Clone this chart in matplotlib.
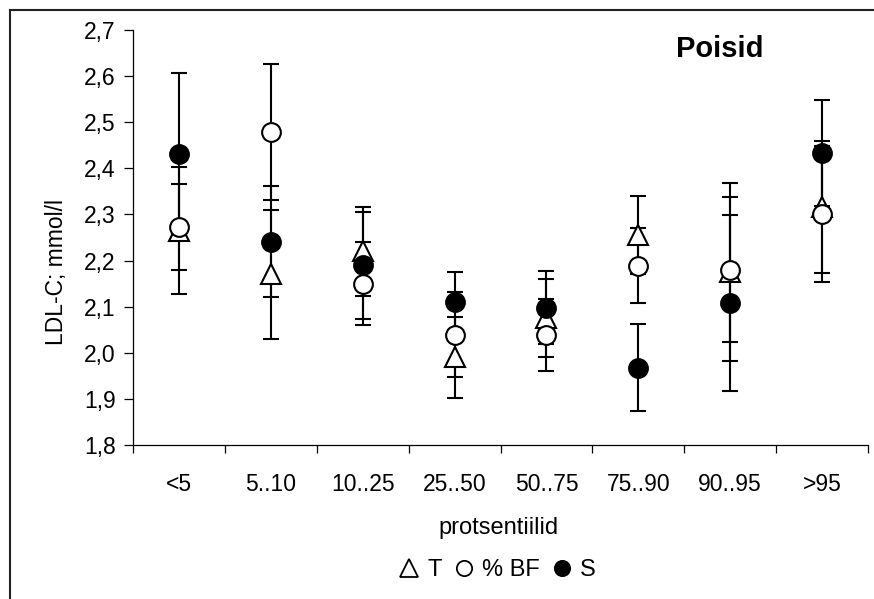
import numpy as np
import matplotlib.pyplot as plt
from matplotlib.lines import Line2D
from matplotlib.ticker import FuncFormatter

plt.rcParams['font.family'] = ['Liberation Sans', 'DejaVu Sans']

# Kategooriad ja väärtused (loetud pildilt)
categories = ['<5', '5..10', '10..25', '25..50', '50..75', '75..90', '90..95', '>95']
T = [2.265, 2.17, 2.22, 1.99, 2.075, 2.255, 2.175, 2.317]
T_err = [0.137, 0.14, 0.097, 0.088, 0.085, 0.084, 0.193, 0.143]
BF = [2.273, 2.479, 2.15, 2.039, 2.039, 2.189, 2.18, 2.301]
BF_err = [0.093, 0.148, 0.09, 0.092, 0.078, 0.082, 0.157, 0.148]
S = [2.431, 2.241, 2.19, 2.111, 2.098, 1.968, 2.108, 2.433]
S_err = [0.176, 0.121, 0.116, 0.065, 0.08, 0.095, 0.19, 0.115]

x = np.arange(len(categories)) + 0.5

fig = plt.figure(figsize=(8.74, 5.99), dpi=100)
ax = fig.add_axes([133/874, 1 - 445/599, 735/874, 415/599])

# veapiirid
for vals, errs in [(T, T_err), (BF, BF_err), (S, S_err)]:
    ax.errorbar(x, vals, yerr=errs, fmt='none', ecolor='black', elinewidth=1.5,
                capsize=5.5, capthick=1.5, zorder=2)

# markerid
ax.plot(x, T, linestyle='none', marker='^', markersize=14, markerfacecolor='white',
        markeredgecolor='black', markeredgewidth=1.5, zorder=3)
ax.plot(x, BF, linestyle='none', marker='o', markersize=13.5, markerfacecolor='white',
        markeredgecolor='black', markeredgewidth=1.5, zorder=4)
ax.plot(x, S, linestyle='none', marker='o', markersize=13.5, markerfacecolor='black',
        markeredgecolor='black', markeredgewidth=1.5, zorder=5)

ax.set_xlim(0, len(categories))
ax.set_ylim(1.8, 2.7)
ax.set_yticks(np.arange(1.8, 2.71, 0.1))
ax.yaxis.set_major_formatter(FuncFormatter(lambda v, p: f"{v:.1f}".replace('.', ',')))

ax.set_xticks(np.arange(0, len(categories) + 1))
ax.set_xticklabels([])
ax.set_xticks(x, minor=True)
ax.set_xticklabels(categories, minor=True)
ax.tick_params(axis='x', which='minor', length=0, pad=20, labelsize=16.5)
ax.tick_params(axis='x', which='major', direction='out', length=6, width=0.9)
ax.tick_params(axis='y', direction='out', length=6.5, width=0.9, pad=6, labelsize=16.5)

for side in ['top', 'right']:
    ax.spines[side].set_visible(False)
for side in ['left', 'bottom']:
    ax.spines[side].set_linewidth(0.9)

fig.text(720/874, 1 - 49/599, 'Poisid', fontsize=21, fontweight='bold', ha='center', va='center')
fig.text(57/874, 1 - 272/599, 'LDL-C; mmol/l', fontsize=16.5, rotation=90, ha='center', va='center')
fig.text(499/874, 1 - 528/599, 'protsentiilid', fontsize=17, ha='center', va='center')

handles = [
    Line2D([], [], linestyle='none', marker='^', markersize=13, markerfacecolor='white',
           markeredgecolor='black', markeredgewidth=1.3),
    Line2D([], [], linestyle='none', marker='o', markersize=11, markerfacecolor='white',
           markeredgecolor='black', markeredgewidth=1.3),
    Line2D([], [], linestyle='none', marker='o', markersize=11, markerfacecolor='black',
           markeredgecolor='black', markeredgewidth=1.3),
]
fig.legend(handles, ['T', '% BF', 'S'], ncol=3, loc='center',
           bbox_to_anchor=(497/874, 1 - 570/599), frameon=False, fontsize=17,
           handlelength=0.9, handletextpad=0.3, columnspacing=0.5, borderpad=0)

# raam ümber joonise
fig.add_artist(Line2D([9.5/874, 9.5/874], [0, 1 - 9.5/599], color='#222222', lw=1.5))
fig.add_artist(Line2D([9.5/874, 1], [1 - 9.5/599, 1 - 9.5/599], color='#222222', lw=1.5))

fig.savefig('out.png', dpi=100)
